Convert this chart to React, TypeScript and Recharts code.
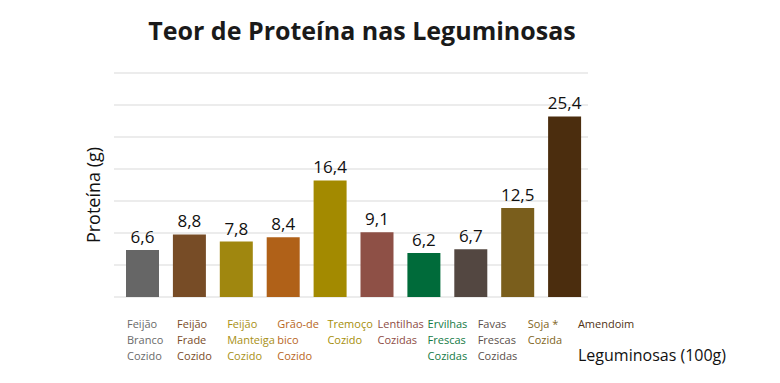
import React from "react";
import { BarChart, Bar, XAxis, YAxis, CartesianGrid, Cell, LabelList } from "recharts";

// dados
const categories = [
  "Feijão|Branco|Cozido",
  "Feijão|Frade|Cozido",
  "Feijão|Manteiga|Cozido",
  "Grão-de|bico|Cozido",
  "Tremoço|Cozido",
  "Lentilhas|Cozidas",
  "Ervilhas|Frescas|Cozidas",
  "Favas|Frescas|Cozidas",
  "Soja *|Cozida",
  "Amendoim",
];
const proteina = [6.6, 8.8, 7.8, 8.4, 16.4, 9.1, 6.2, 6.7, 12.5, 25.4];
const barColors = [
  "#666666", "#774c26", "#a0870f", "#b06118", "#a38a00",
  "#8e5046", "#006b3a", "#534741", "#7a5e1c", "#4b2d0e",
];
const labelColors = [
  "#6a6a6a", "#7a4c28", "#a88f14", "#b8661c", "#a68e08",
  "#8e4c44", "#137a45", "#5a4f4a", "#7f6522", "#4f3214",
];
const gridTicks = [0, 4.5, 9, 13.5, 18, 22.5, 27, 31.5];

const data = categories.map((c, i) => ({ name: c, value: proteina[i] }));

const FONT = "'Open Sans', Lato, sans-serif";

// os rótulos do eixo x não seguem as barras: passo de ~50px a partir de x=127
function CatTick(props: any) {
  const { y, payload, index } = props;
  const lines = String(payload.value).split("|");
  const lx = 127 + index * 50.1;
  return (
    <text x={lx} y={y + 23} fontSize={11} fontFamily={FONT} fill={labelColors[index]} textAnchor="start">
      {lines.map((l: string, i: number) => (
        <tspan key={i} x={lx} dy={i === 0 ? 0 : 16}>
          {l}
        </tspan>
      ))}
    </text>
  );
}

export default function App() {
  return (
    <div style={{ position: "absolute", left: 0, top: 0, width: 780, height: 383, background: "#fff", fontFamily: FONT }}>
      <div
        style={{
          position: "absolute", left: 0, width: 724, top: 13, textAlign: "center",
          fontSize: 25, fontWeight: 700, color: "#1a1a1a", whiteSpace: "nowrap",
        }}
      >
        Teor de Proteína nas Leguminosas
      </div>
      <div
        style={{
          position: "absolute", left: 93, top: 195, transform: "translate(-50%, -50%) rotate(-90deg)",
          fontSize: 18, color: "#111", whiteSpace: "nowrap",
        }}
      >
        Proteína (g)
      </div>
      <div style={{ position: "absolute", left: 578, top: 344, fontSize: 16, color: "#111", whiteSpace: "nowrap" }}>
        Leguminosas (100g)
      </div>
      <BarChart
        width={780}
        height={383}
        data={data}
        margin={{ top: 73, right: 192, left: 114, bottom: 26 }}
      >
        <CartesianGrid vertical={false} stroke="#d9d9d9" />
        <YAxis
          width={0}
          domain={[0, 31.5]}
          ticks={gridTicks}
          tick={() => <g />}
          axisLine={false}
          tickLine={false}
        />
        <XAxis
          dataKey="name"
          height={60}
          interval={0}
          padding={{ left: 5, right: 0 }}
          axisLine={false}
          tickLine={false}
          tick={<CatTick />}
        />
        <Bar dataKey="value" barSize={33} isAnimationActive={false}>
          {data.map((_, i) => (
            <Cell key={i} fill={barColors[i]} />
          ))}
          <LabelList
            dataKey="value"
            position="top"
            offset={7}
            fontSize={17}
            fontFamily={FONT}
            fill="#111"
            formatter={(v: any) => String(v).replace(".", ",")}
          />
        </Bar>
      </BarChart>
    </div>
  );
}
